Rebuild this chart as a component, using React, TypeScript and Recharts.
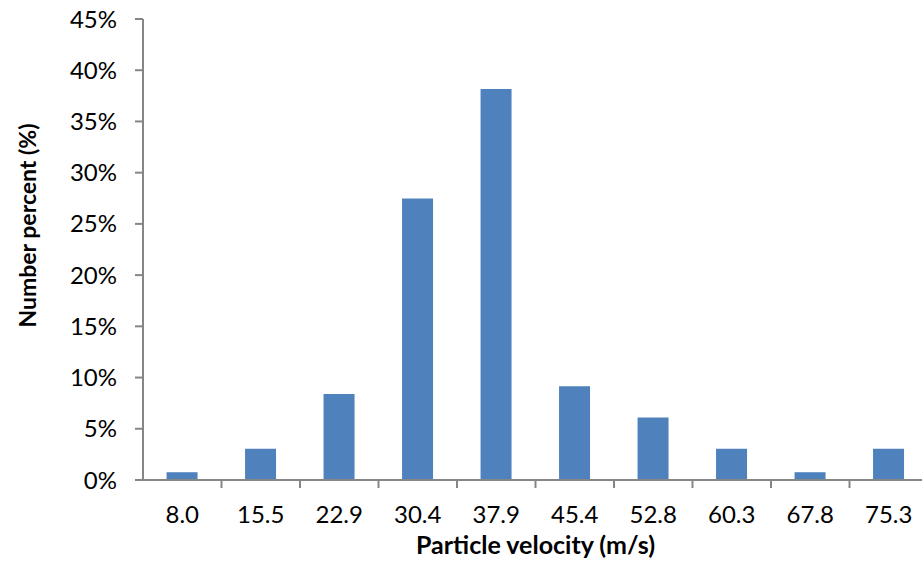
import React from "react";
import { BarChart, Bar, XAxis, YAxis, Label } from "recharts";

// Particle velocity bins (m/s) and share of particles in each bin (%)
const velocityBins = ["8.0", "15.5", "22.9", "30.4", "37.9", "45.4", "52.8", "60.3", "67.8", "75.3"];
const numberPercent = [0.76, 3.05, 8.4, 27.48, 38.17, 9.16, 6.11, 3.05, 0.76, 3.05];
const percentTicks = [0, 5, 10, 15, 20, 25, 30, 35, 40, 45];

const data = velocityBins.map((bin, i) => ({ bin, pct: numberPercent[i] }));

const FONT = "Lato, 'Open Sans', sans-serif";
const AXIS = "#868686";
const CHART_W = 928;
const Y_AXIS_W = 143;
const EDGE_TICK = 8;

// Bin label plus a short mark on the boundary to its left (Excel-style category ticks)
function BinTick(props: any) {
  const { x, y, payload, index, visibleTicksCount } = props;
  const count = visibleTicksCount || velocityBins.length;
  const axisWidth = typeof props.width === "number" && props.width > 0 ? props.width : CHART_W - Y_AXIS_W;
  const band = axisWidth / count;
  const edgeX = x - band / 2;
  return (
    <g>
      {index > 0 && (
        <line x1={edgeX} x2={edgeX} y1={y - EDGE_TICK} y2={y} stroke={AXIS} strokeWidth={2} />
      )}
      <text x={x} y={y + 35} textAnchor="middle" fill="#000" fontSize={24} fontFamily={FONT}>
        {payload.value}
      </text>
    </g>
  );
}

// Rotated y-axis title, sitting a little above the plot's vertical centre
function YTitle(props: any) {
  const vb = props.viewBox || { x: 0, y: 19, height: 460 };
  const cx = vb.x + 27;
  const cy = vb.y + vb.height / 2 - 24;
  return (
    <text
      x={cx}
      y={cy}
      transform={`rotate(-90, ${cx}, ${cy})`}
      textAnchor="middle"
      dominantBaseline="central"
      fill="#000"
      fontSize={23}
      fontWeight={700}
      fontFamily={FONT}
    >
      Number percent (%)
    </text>
  );
}

export default function App() {
  return (
    <div
      style={{
        position: "fixed",
        left: 0,
        top: 0,
        width: 922,
        height: 564,
        overflow: "hidden",
        background: "#ffffff",
      }}
    >
      <BarChart
        width={CHART_W}
        height={564}
        data={data}
        margin={{ top: 19, right: 0, left: 0, bottom: 0 }}
        barCategoryGap="30%"
        style={{ fontFamily: FONT }}
      >
        <XAxis
          dataKey="bin"
          interval={0}
          height={84}
          tickSize={EDGE_TICK}
          tickMargin={0}
          tickLine={false}
          tick={<BinTick />}
          axisLine={{ stroke: AXIS, strokeWidth: 2 }}
        >
          <Label
            value="Particle velocity (m/s)"
            position="insideBottom"
            offset={10}
            style={{ fill: "#000", fontSize: 25, fontWeight: 700, fontFamily: FONT }}
          />
        </XAxis>
        <YAxis
          width={Y_AXIS_W}
          domain={[0, 45]}
          ticks={percentTicks}
          tickFormatter={(v) => `${v}%`}
          tickSize={8}
          tickMargin={18}
          axisLine={{ stroke: AXIS, strokeWidth: 2 }}
          tickLine={{ stroke: AXIS, strokeWidth: 2 }}
          tick={{ fill: "#000", fontSize: 24, fontFamily: FONT }}
          allowDataOverflow
        >
          <Label content={<YTitle />} />
        </YAxis>
        <Bar dataKey="pct" fill="#4F81BD" isAnimationActive={false} />
      </BarChart>
    </div>
  );
}
